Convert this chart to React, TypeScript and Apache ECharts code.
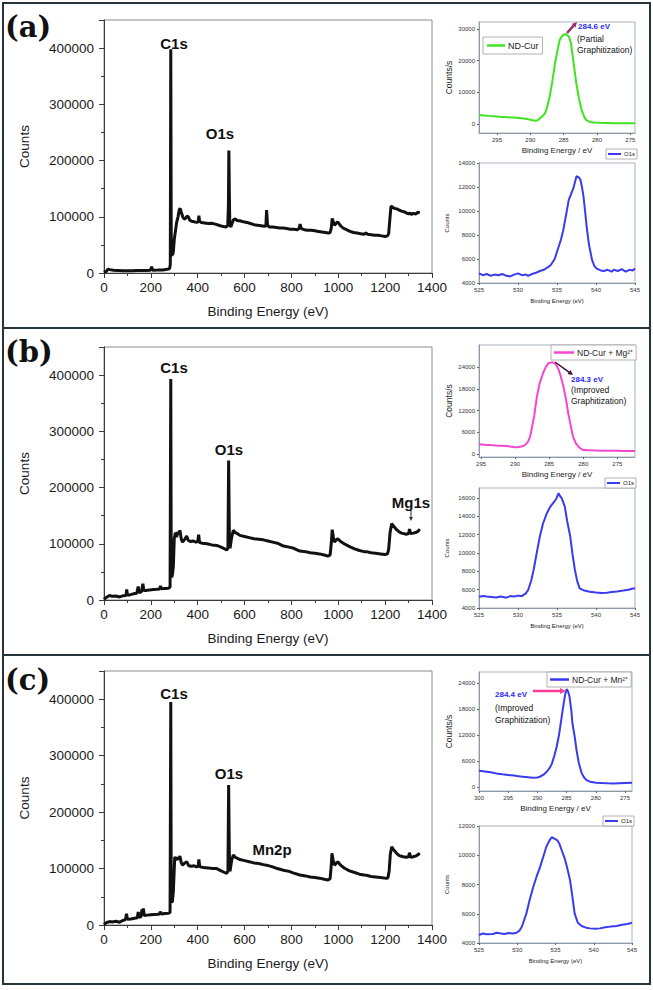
import React, { useEffect, useRef } from 'react';
import * as echarts from 'echarts';

const FONT = '"Liberation Sans", Arial, Helvetica, sans-serif';

// ---------- DATA ----------
const surveyA: [number, number][] = [
  [0, 1000], [10, 3000], [17, 7000], [25, 6000], [40, 5000], [60, 4500], [80, 4000], [100, 4000], [120, 4200], [140, 4500], [160, 4300], [180, 4600], [198, 5000], [203, 11000], [208, 5000], [230, 5200], [250, 5500], [270, 6500], [280, 8000], [283, 15000], [285, 398000], [287, 60000], [289, 30000], [291, 40000], [293, 32000], [296, 38000], [300, 60000], [305, 75000], [310, 90000], [316, 100000], [321, 112000], [325, 115000], [330, 108000], [336, 100000], [342, 96000], [348, 97000], [355, 101000], [360, 100000], [366, 94000], [374, 92000], [385, 91000], [395, 90000], [402, 91000], [405, 102000], [408, 92000], [415, 90000], [430, 89000], [445, 88000], [460, 88500], [475, 87000], [490, 85000], [505, 83000], [520, 82000], [528, 84000], [531, 120000], [533, 218000], [535, 140000], [537, 85000], [542, 82000], [548, 90000], [553, 95000], [560, 96000], [570, 93000], [580, 93000], [595, 91000], [610, 90000], [625, 88000], [640, 86000], [655, 85000], [670, 84000], [685, 83000], [691, 84000], [694, 112000], [698, 85000], [705, 82000], [720, 82000], [735, 81000], [750, 80000], [765, 80000], [780, 79000], [795, 78000], [810, 78000], [825, 77000], [833, 79000], [837, 87000], [842, 79000], [855, 77000], [870, 76000], [885, 76000], [900, 75000], [915, 74000], [930, 73000], [945, 72000], [958, 71000], [965, 72000], [970, 80000], [974, 97000], [978, 92000], [984, 85000], [990, 88000], [997, 91000], [1003, 88000], [1010, 84000], [1020, 80000], [1035, 77000], [1050, 74000], [1065, 72000], [1080, 71000], [1095, 70000], [1110, 69000], [1118, 71000], [1125, 69000], [1140, 68000], [1155, 67000], [1170, 67000], [1185, 66000], [1200, 65000], [1210, 66000], [1215, 70000], [1220, 95000], [1225, 119000], [1232, 117000], [1240, 115000], [1250, 114000], [1260, 112000], [1270, 110000], [1280, 109000], [1290, 107000], [1300, 105000], [1306, 107000], [1312, 104000], [1320, 106000], [1330, 105000], [1340, 108000], [1348, 107000],
];

const surveyB: [number, number][] = [
  [0, 1000], [8, 4000], [15, 6000], [24, 8000], [35, 6500], [50, 7000], [67, 5500], [80, 7500], [94, 8000], [97, 19000], [100, 9000], [110, 9000], [125, 11000], [140, 12000], [146, 24000], [150, 13000], [160, 15000], [166, 29000], [170, 17000], [180, 17000], [195, 18000], [210, 18500], [225, 19000], [238, 19500], [241, 25000], [245, 20000], [260, 20500], [275, 21000], [282, 23000], [285, 393000], [287, 50000], [289, 40000], [292, 45000], [296, 60000], [300, 110000], [305, 120000], [310, 112000], [316, 121000], [320, 118000], [324, 124000], [330, 108000], [335, 103000], [345, 108000], [353, 114000], [360, 106000], [370, 104000], [380, 105000], [392, 103000], [400, 104000], [404, 116000], [408, 102000], [420, 101000], [440, 100000], [460, 98000], [481, 97000], [500, 94000], [515, 91000], [523, 89000], [529, 92000], [532, 248000], [535, 120000], [538, 92000], [545, 112000], [552, 124000], [560, 120000], [570, 118000], [580, 115000], [600, 113000], [620, 111000], [640, 109000], [660, 108000], [680, 107000], [700, 105000], [720, 103000], [740, 101000], [766, 96000], [790, 94000], [810, 92000], [836, 87000], [860, 86000], [880, 84000], [900, 83000], [920, 82000], [940, 80000], [956, 78000], [965, 80000], [970, 100000], [974, 125000], [979, 112000], [984, 103000], [990, 106000], [998, 109000], [1010, 104000], [1025, 100000], [1048, 95000], [1070, 91000], [1090, 88000], [1110, 86000], [1120, 86000], [1140, 84000], [1160, 83000], [1180, 82000], [1200, 81000], [1210, 82000], [1215, 90000], [1221, 120000], [1228, 136000], [1235, 132000], [1249, 125000], [1260, 121000], [1270, 119000], [1280, 118000], [1290, 117000], [1300, 118000], [1304, 126000], [1309, 118000], [1320, 119000], [1330, 120000], [1340, 122000], [1348, 126000],
];

const surveyC: [number, number][] = [
  [0, 1000], [8, 3500], [15, 5000], [24, 6000], [35, 5500], [50, 6500], [67, 5000], [80, 8000], [92, 9500], [96, 20000], [100, 10000], [115, 10500], [130, 12000], [142, 13000], [146, 23000], [150, 13500], [158, 15000], [162, 27500], [166, 16000], [168, 29500], [172, 17000], [185, 17500], [200, 18000], [215, 18500], [230, 19000], [237, 19500], [240, 23600], [244, 19500], [260, 20500], [275, 21000], [282, 22000], [285, 395000], [287, 48000], [289, 40000], [292, 42000], [296, 60000], [302, 121000], [307, 115000], [312, 120000], [318, 116000], [324, 122000], [330, 110000], [335, 106000], [345, 110000], [353, 112000], [362, 105000], [372, 104000], [385, 105000], [395, 103000], [402, 104000], [405, 116000], [409, 103000], [425, 102000], [445, 101000], [465, 100000], [481, 100000], [500, 96000], [515, 93000], [523, 91500], [529, 95000], [532, 248000], [535, 125000], [538, 95000], [545, 115000], [552, 124000], [560, 120000], [570, 118000], [580, 116000], [600, 114000], [620, 112000], [640, 110000], [660, 109000], [680, 107000], [694, 106000], [720, 103000], [740, 100000], [766, 97000], [790, 95000], [810, 92000], [836, 88500], [860, 87000], [880, 85000], [900, 84000], [920, 83000], [940, 81000], [956, 79600], [965, 82000], [970, 105000], [973, 127000], [978, 115000], [984, 106000], [990, 109000], [998, 112000], [1010, 106000], [1025, 101000], [1048, 96000], [1070, 93000], [1090, 90000], [1110, 88500], [1120, 88000], [1140, 86000], [1160, 85000], [1180, 84000], [1206, 82600], [1212, 84000], [1217, 95000], [1222, 125000], [1228, 138600], [1235, 134000], [1249, 127000], [1260, 123000], [1277, 121000], [1290, 120000], [1300, 121000], [1304, 128000], [1309, 120000], [1320, 121000], [1335, 123000], [1348, 127000],
];

const c1sA: [number, number][] = [
  [297.7, 2840], [297, 2750], [296.2, 2600], [295.5, 2500], [294.7, 2350], [294, 2250], [293.3, 2150], [292.5, 2050], [291.7, 1950], [291, 1800], [290.3, 1550], [289.6, 1200], [289.2, 1040], [288.9, 1200], [288.6, 1800], [288.2, 2500], [287.8, 3380], [287.5, 5200], [287.1, 8600], [286.7, 13500], [286.3, 19150], [285.9, 23500], [285.6, 26500], [285.2, 27900], [284.9, 28300], [284.7, 28400], [284.4, 28000], [284.2, 27500], [283.9, 25500], [283.7, 22300], [283.4, 17500], [283.1, 12840], [282.7, 8000], [282.3, 4420], [281.9, 2200], [281.6, 1260], [281.1, 700], [280.5, 500], [279.5, 400], [278.5, 350], [277.5, 300], [276.5, 300], [275.5, 280], [274.3, 300],
];
const c1sB: [number, number][] = [
  [295.3, 2680], [294.5, 2550], [293.6, 2450], [292.8, 2350], [292, 2280], [291.2, 2210], [290.5, 2000], [290, 1850], [289.4, 1950], [288.8, 2210], [288.4, 2700], [288.1, 3400], [287.8, 4800], [287.6, 6640], [287.2, 10500], [286.8, 15840], [286.4, 19500], [285.9, 22300], [285.5, 24000], [285.1, 25080], [284.7, 25300], [284.4, 25250], [284, 24700], [283.7, 23700], [283.3, 21500], [282.9, 18600], [282.5, 14800], [282.2, 11250], [281.8, 7500], [281.5, 4780], [281.1, 3000], [280.7, 2020], [280.3, 1400], [280, 1100], [279, 1000], [278, 950], [277, 920], [276, 900], [275, 880], [274, 860], [273, 840], [272.4, 830],
];
const c1sC: [number, number][] = [
  [300, 3770], [299, 3600], [298, 3400], [297, 3150], [296, 2950], [295, 2800], [294, 2650], [293.5, 2540], [292.5, 2400], [291.5, 2250], [290.7, 2150], [290, 2200], [289.6, 2380], [289, 2800], [288.4, 3530], [287.9, 4400], [287.5, 5470], [287.1, 7200], [286.7, 9300], [286.3, 12000], [286, 14700], [285.7, 17500], [285.4, 20080], [285.2, 21600], [285, 22550], [284.8, 22200], [284.5, 20840], [284.2, 17800], [284, 14700], [283.6, 11500], [283.3, 8540], [282.9, 5500], [282.4, 3160], [282, 2200], [281.6, 1620], [281, 1250], [279.9, 990], [279, 920], [278, 880], [277, 850], [276, 900], [275, 950], [273.8, 990],
];

const o1sA: [number, number][] = [
  [525, 4800], [525.5, 4650], [526, 4750], [526.5, 4600], [527, 4700], [527.5, 4650], [528, 4750], [528.5, 4600], [529, 4550], [529.5, 4700], [530, 4800], [530.5, 4650], [531, 4700], [531.3, 4600], [531.8, 4750], [532.3, 4850], [532.8, 5000], [533.3, 5100], [533.8, 5300], [534.2, 5500], [534.7, 6000], [535.2, 7000], [535.5, 7600], [535.8, 8400], [536.2, 9800], [536.5, 10900], [536.8, 11400], [537.1, 11900], [537.3, 12400], [537.5, 12900], [537.8, 12800], [538, 12600], [538.2, 12000], [538.4, 11200], [538.6, 10000], [538.8, 8700], [539.1, 7200], [539.5, 5900], [539.8, 5400], [540.1, 5200], [540.6, 5050], [541, 5000], [541.5, 5100], [542, 4950], [542.3, 5100], [542.8, 5000], [543.3, 5150], [543.8, 4950], [544.3, 5100], [544.7, 5050], [545, 5200],
];
const o1sB: [number, number][] = [
  [525, 5230], [525.5, 5300], [526, 5250], [526.6, 5200], [527.2, 5150], [527.8, 5250], [528.5, 5130], [529, 5300], [529.5, 5250], [530, 5350], [530.5, 5300], [531, 5600], [531.3, 5970], [531.7, 7000], [532, 8150], [532.4, 10000], [532.8, 11800], [533.2, 13200], [533.7, 14350], [534.1, 15000], [534.5, 15440], [534.9, 15900], [535.2, 16530], [535.4, 16200], [535.6, 16000], [536, 15070], [536.3, 13500], [536.7, 11800], [537, 9800], [537.3, 8150], [537.6, 6900], [537.9, 6150], [538.5, 5900], [539.2, 5780], [540, 5700], [540.7, 5650], [541.4, 5670], [542, 5750], [542.7, 5800], [543.5, 5900], [544.2, 6000], [544.6, 6100], [545, 6150],
];
const o1sC: [number, number][] = [
  [525, 4550], [525.5, 4650], [526, 4600], [526.8, 4620], [527.3, 4700], [527.7, 4660], [528.3, 4620], [528.9, 4680], [529.4, 4650], [529.9, 4700], [530.3, 4850], [530.6, 5110], [531.2, 6030], [531.6, 6900], [532.1, 7850], [532.5, 8500], [533, 9220], [533.4, 9900], [533.8, 10580], [534.2, 11000], [534.5, 11230], [534.8, 11150], [535.2, 11040], [535.5, 10800], [535.8, 10360], [536.2, 9790], [536.5, 9200], [536.9, 8300], [537.2, 7200], [537.5, 6030], [537.9, 5400], [538.4, 5160], [539, 5050], [539.5, 5000], [540.2, 4980], [540.8, 5000], [541.5, 5080], [542.2, 5120], [543, 5160], [543.7, 5250], [544.4, 5300], [545, 5390],
];

const c1sATicksY = [0, 10000, 20000, 30000];
const c1sBCTicksY = [0, 6000, 12000, 18000, 24000];
const c1sABTicksX = [295, 290, 285, 280, 275];
const c1sCTicksX = [300, 295, 290, 285, 280, 275];
const o1sTicksX = [525, 530, 535, 540, 545];
const o1sATicksY = [4000, 6000, 8000, 10000, 12000, 14000];
const o1sBTicksY = [4000, 6000, 8000, 10000, 12000, 14000, 16000];
const o1sCTicksY = [4000, 6000, 8000, 10000, 12000];

const NAME_A = 'ND-Cur';
const NAME_B = 'ND-Cur + Mg²⁺';
const NAME_C = 'ND-Cur + Mn²⁺';

// ---------- helpers ----------
const plain = (v: number) => String(v);
const mainX = (gi: number) => ({
  type: 'value', gridIndex: gi, min: 0, max: 1400, interval: 200,
  name: 'Binding Energy (eV)', nameLocation: 'middle', nameGap: 31,
  nameTextStyle: { fontSize: 13.5, color: '#1a1a1a', fontFamily: FONT },
  axisLine: { show: true, onZero: false, lineStyle: { color: '#3a3a3a', width: 1 } },
  axisTick: { show: true, length: 5, lineStyle: { color: '#3a3a3a' } },
  minorTick: { show: true, splitNumber: 2, length: 3, lineStyle: { color: '#3a3a3a' } },
  axisLabel: { fontSize: 13.5, color: '#1a1a1a', margin: 7, fontFamily: FONT, formatter: plain },
  splitLine: { show: false },
});
const mainY = (gi: number) => ({
  type: 'value', gridIndex: gi, min: 0, max: 450000, interval: 100000,
  name: 'Counts', nameLocation: 'middle', nameGap: 73,
  nameTextStyle: { fontSize: 13.5, color: '#1a1a1a', fontFamily: FONT },
  axisLine: { show: true, onZero: false, lineStyle: { color: '#3a3a3a', width: 1 } },
  axisTick: { show: true, length: 5, lineStyle: { color: '#3a3a3a' } },
  minorTick: { show: true, splitNumber: 2, length: 3, lineStyle: { color: '#3a3a3a' } },
  axisLabel: { fontSize: 13.5, color: '#1a1a1a', margin: 10, fontFamily: FONT, showMaxLabel: false, formatter: plain },
  splitLine: { show: false },
});
const insetX = (gi: number, min: number, max: number, inverse: boolean, ticks: number[], name: string, nameSize: number, nameGap: number) => ({
  type: 'value', gridIndex: gi, min, max, inverse,
  name, nameLocation: 'middle', nameGap,
  nameTextStyle: { fontSize: nameSize, color: '#222', fontFamily: FONT },
  axisLine: { show: true, onZero: false, lineStyle: { color: '#8e9aa8', width: 1 } },
  axisTick: { show: true, length: 2, customValues: ticks, lineStyle: { color: '#666' } },
  axisLabel: { customValues: ticks, fontSize: 6, color: '#333', margin: 4, fontFamily: FONT, formatter: plain },
  splitLine: { show: false },
});
const insetY = (gi: number, min: number, max: number, ticks: number[], name: string, nameSize: number, nameGap: number) => ({
  type: 'value', gridIndex: gi, min, max,
  name, nameLocation: 'middle', nameGap,
  nameTextStyle: { fontSize: nameSize, color: '#222', fontFamily: FONT },
  axisLine: { show: true, onZero: false, lineStyle: { color: '#8e9aa8', width: 1 } },
  axisTick: { show: true, length: 2, customValues: ticks, lineStyle: { color: '#666' } },
  axisLabel: { customValues: ticks, fontSize: 6, color: '#333', margin: 4, fontFamily: FONT, formatter: plain },
  splitLine: { show: false },
});
const mainGrid = (top: number, height: number) => ({ left: 104, top, width: 328, height, show: true, borderColor: '#8c8c8c', borderWidth: 1 });
const insetGrid = (top: number, width: number, height: number) => ({ left: 479, top, width, height, show: true, borderColor: '#a8b3c0', borderWidth: 1 });

const legendBase = (name: string, left: number, top: number, fontSize: number, itemWidth: number, itemHeight: number, pad: number[]) => ({
  data: [name], left, top, orient: 'horizontal', selectedMode: false,
  icon: 'rect', itemWidth, itemHeight, padding: pad, itemGap: 2,
  borderColor: '#a0a0a0', borderWidth: 0.8, backgroundColor: '#fff',
  textStyle: { fontSize, color: '#222', fontFamily: FONT, padding: [0, 0, 0, -2] },
});

function arrow(x1: number, y1: number, x2: number, y2: number, color: string, width: number, head: number) {
  const ang = Math.atan2(y2 - y1, x2 - x1);
  const bx = x2 - head * Math.cos(ang);
  const by = y2 - head * Math.sin(ang);
  const px = Math.sin(ang) * head * 0.5;
  const py = -Math.cos(ang) * head * 0.5;
  return [
    { type: 'line', shape: { x1, y1, x2: bx, y2: by }, style: { stroke: color, lineWidth: width }, z: 50 },
    { type: 'polygon', shape: { points: [[x2, y2], [bx + px, by + py], [bx - px, by - py]] }, style: { fill: color }, z: 50 },
  ];
}
const txt = (text: string, x: number, y: number, size: number, opts: any = {}) => ({
  type: 'text', x, y, z: 60,
  style: {
    text, fontSize: size, fontFamily: opts.family || FONT, fontWeight: opts.weight || 'normal',
    fill: opts.fill || '#111', textAlign: opts.align || 'left', textVerticalAlign: 'middle',
  },
});

export default function App() {
  const ref = useRef<HTMLDivElement>(null);
  useEffect(() => {
    document.body.style.margin = '0';
    const chart = echarts.init(ref.current!, undefined, { renderer: 'svg' });
    const serif = '"DejaVu Serif", "Liberation Serif", serif';
    const option: any = {
      animation: false,
      backgroundColor: '#ffffff',
      grid: [
        mainGrid(20, 253),
        mainGrid(347, 253),
        mainGrid(671, 254),
        insetGrid(22, 156, 111),
        insetGrid(163, 156, 120),
        insetGrid(345, 156, 112),
        insetGrid(488, 156, 120),
        insetGrid(672, 153, 119),
        insetGrid(826, 153, 117),
      ],
      xAxis: [
        mainX(0), mainX(1), mainX(2),
        insetX(3, 274.3, 297.7, true, c1sABTicksX, 'Binding Energy / eV', 8, 13),
        insetX(4, 525, 545, false, o1sTicksX, 'Binding Energy (eV)', 6, 15),
        insetX(5, 272.4, 295.3, true, c1sABTicksX, 'Binding Energy / eV', 8, 13),
        insetX(6, 525, 545, false, o1sTicksX, 'Binding Energy (eV)', 6, 15),
        insetX(7, 273.8, 300, true, c1sCTicksX, 'Binding Energy / eV', 8, 13),
        insetX(8, 525, 545, false, o1sTicksX, 'Binding Energy (eV)', 6, 15),
      ],
      yAxis: [
        mainY(0), mainY(1), mainY(2),
        insetY(3, -2800, 32200, c1sATicksY, 'Counts/s', 8.5, 26),
        insetY(4, 4000, 14000, o1sATicksY, 'Counts', 6, 29),
        insetY(5, -830, 30100, c1sBCTicksY, 'Counts/s', 8.5, 26),
        insetY(6, 4000, 17100, o1sBTicksY, 'Counts', 6, 29),
        insetY(7, -900, 26500, c1sBCTicksY, 'Counts/s', 8.5, 26),
        insetY(8, 4000, 12000, o1sCTicksY, 'Counts', 6, 29),
      ],
      legend: [
        legendBase(NAME_A, 483, 37, 9, 18, 2.5, [4, 4, 4, 4]),
        legendBase(NAME_B, 551, 345, 8.5, 20, 2.5, [3, 3, 3, 3]),
        legendBase(NAME_C, 547, 672, 8.5, 19, 2.5, [3, 3, 3, 3]),
        legendBase('O1s', 606, 149, 6, 13, 2, [2, 2, 2, 2]),
        legendBase('O1s', 605, 478, 6, 13, 2, [2, 2, 2, 2]),
        legendBase('O1s', 603, 816, 6, 13, 2, [2, 2, 2, 2]),
      ],
      series: [
        { type: 'line', name: 'Survey (a)', xAxisIndex: 0, yAxisIndex: 0, data: surveyA, symbol: 'none', silent: true, lineStyle: { color: '#111', width: 3 } },
        { type: 'line', name: 'Survey (b)', xAxisIndex: 1, yAxisIndex: 1, data: surveyB, symbol: 'none', silent: true, lineStyle: { color: '#111', width: 3 } },
        { type: 'line', name: 'Survey (c)', xAxisIndex: 2, yAxisIndex: 2, data: surveyC, symbol: 'none', silent: true, lineStyle: { color: '#111', width: 3 } },
        { type: 'line', name: NAME_A, xAxisIndex: 3, yAxisIndex: 3, data: c1sA, symbol: 'none', silent: true, lineStyle: { color: '#3fe41f', width: 2 }, itemStyle: { color: '#3fe41f' } },
        { type: 'line', name: 'O1s', xAxisIndex: 4, yAxisIndex: 4, data: o1sA, symbol: 'none', silent: true, lineStyle: { color: '#3b3bee', width: 2 }, itemStyle: { color: '#3b3bee' } },
        { type: 'line', name: NAME_B, xAxisIndex: 5, yAxisIndex: 5, data: c1sB, symbol: 'none', silent: true, lineStyle: { color: '#f447cf', width: 2 }, itemStyle: { color: '#f447cf' } },
        { type: 'line', name: 'O1s', xAxisIndex: 6, yAxisIndex: 6, data: o1sB, symbol: 'none', silent: true, lineStyle: { color: '#3b3bee', width: 2 }, itemStyle: { color: '#3b3bee' } },
        { type: 'line', name: NAME_C, xAxisIndex: 7, yAxisIndex: 7, data: c1sC, symbol: 'none', silent: true, lineStyle: { color: '#3b3bee', width: 2 }, itemStyle: { color: '#3b3bee' } },
        { type: 'line', name: 'O1s', xAxisIndex: 8, yAxisIndex: 8, data: o1sC, symbol: 'none', silent: true, lineStyle: { color: '#3b3bee', width: 2 }, itemStyle: { color: '#3b3bee' } },
      ],
      graphic: {
        elements: [
          { type: 'rect', shape: { x: 3, y: 3, width: 647, height: 981 }, style: { fill: 'none', stroke: '#26343b', lineWidth: 2 }, z: 40 },
          { type: 'line', shape: { x1: 3, y1: 328, x2: 650, y2: 328 }, style: { stroke: '#26343b', lineWidth: 2 }, z: 40 },
          { type: 'line', shape: { x1: 3, y1: 655, x2: 650, y2: 655 }, style: { stroke: '#26343b', lineWidth: 2 }, z: 40 },
          txt('(a)', 5, 27, 29, { family: serif, weight: 'bold' }),
          txt('(b)', 5, 352, 29, { family: serif, weight: 'bold' }),
          txt('(c)', 5, 680, 29, { family: serif, weight: 'bold' }),
          txt('C1s', 174, 43, 15, { weight: 'bold', align: 'center' }),
          txt('O1s', 220, 133, 15, { weight: 'bold', align: 'center' }),
          txt('C1s', 174, 367, 15, { weight: 'bold', align: 'center' }),
          txt('O1s', 229, 449, 15, { weight: 'bold', align: 'center' }),
          txt('Mg1s', 411, 502, 15, { weight: 'bold', align: 'center' }),
          ...arrow(411, 510, 411, 521, '#333', 1, 4),
          txt('C1s', 174, 693, 15, { weight: 'bold', align: 'center' }),
          txt('O1s', 229, 773, 15, { weight: 'bold', align: 'center' }),
          txt('Mn2p', 272, 849, 15, { weight: 'bold', align: 'center' }),
          // inset annotations
          ...arrow(567, 33, 577, 22, '#9b2d6e', 2.5, 5),
          txt('284.6 eV', 578, 26, 8, { weight: 'bold', fill: '#2b2bf5' }),
          txt('(Partial', 577, 39, 8.5),
          txt('Graphitization)', 577, 50, 8.5),
          ...arrow(555, 362, 573, 375, '#3a1030', 1.5, 5),
          txt('284.3 eV', 571, 379, 8, { weight: 'bold', fill: '#2b2bf5' }),
          txt('(Improved', 571, 390, 8.5),
          txt('Graphitization)', 571, 401, 8.5),
          ...arrow(533, 691, 566, 691, '#ff3c9a', 2.5, 6),
          txt('284.4 eV', 495, 694, 8, { weight: 'bold', fill: '#2b2bf5' }),
          txt('(Improved', 495, 708, 8.5),
          txt('Graphitization)', 495, 720, 8.5),
        ],
      },
    };
    chart.setOption(option);
    return () => chart.dispose();
  }, []);
  return <div ref={ref} style={{ position: 'absolute', left: 0, top: 0, width: 653, height: 990 }} />;
}
